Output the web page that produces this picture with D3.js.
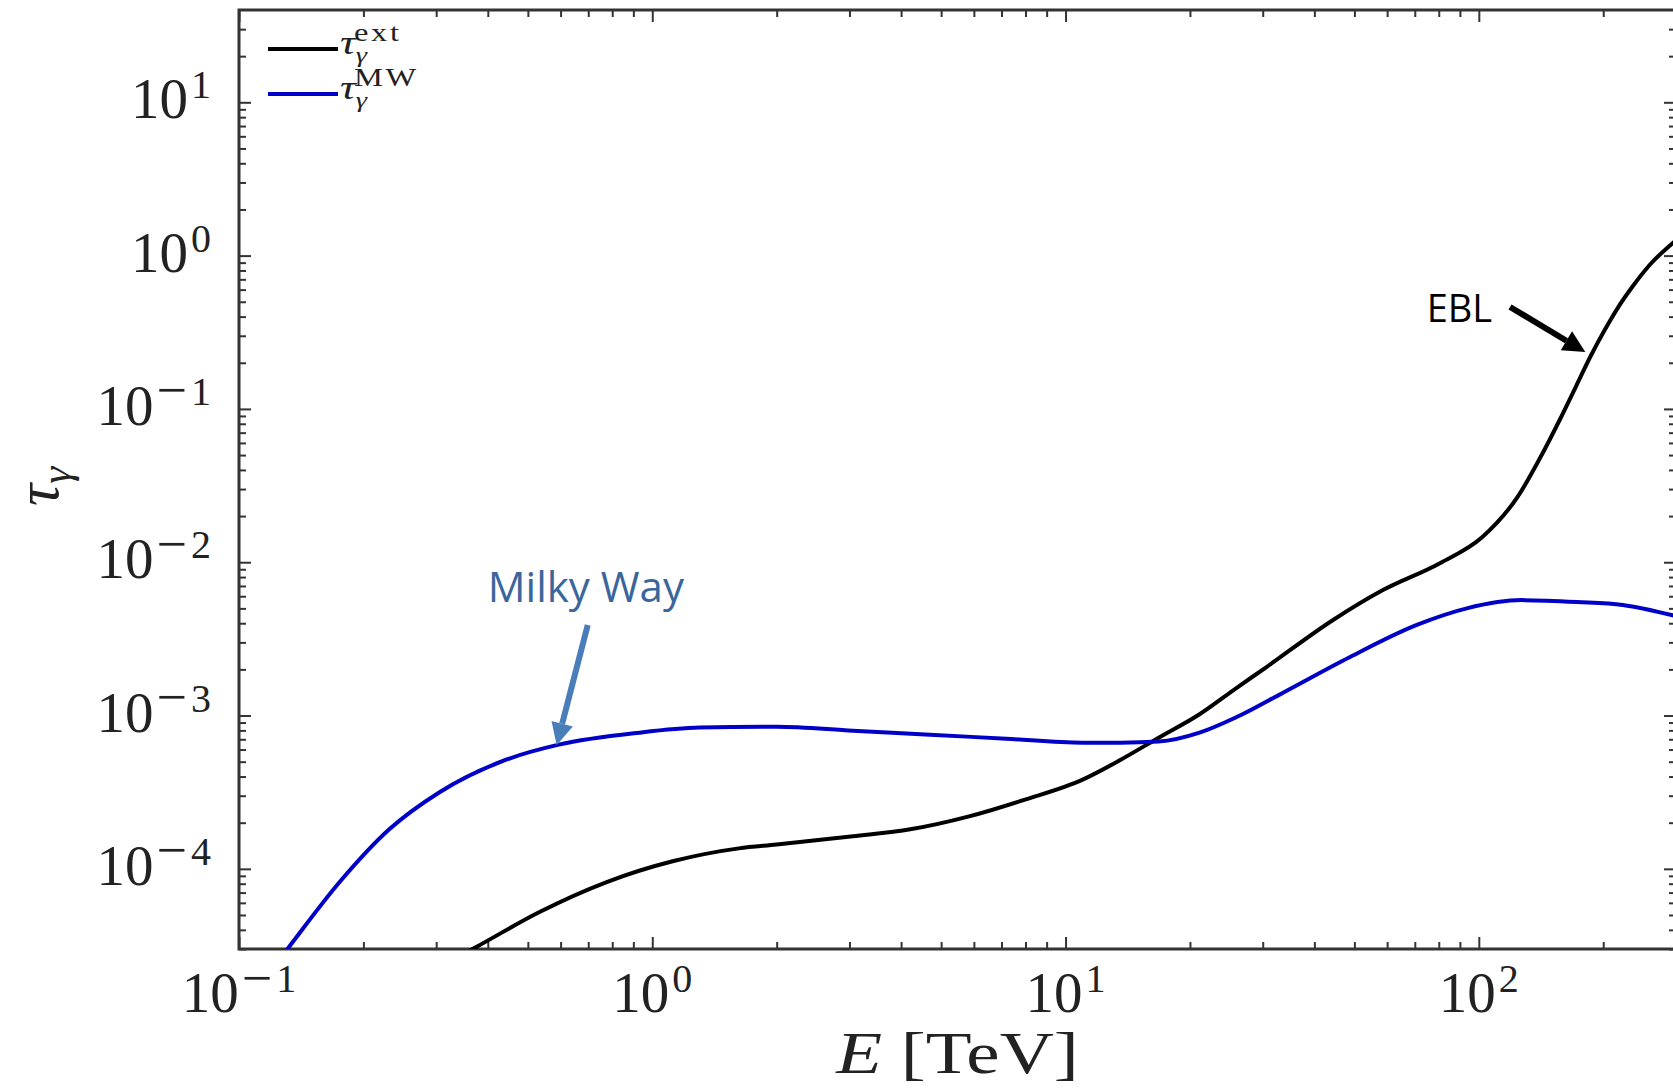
<!DOCTYPE html>
<html>
<head>
<meta charset="utf-8">
<script src="https://cdn.jsdelivr.net/npm/d3@7"></script>
<style>
  body { margin: 0; background: #fff; }
  svg { display: block; }
</style>
</head>
<body>
<div id="chart"></div>
<script>
// Data (E in TeV)
const extE = [0.33, 0.374, 0.532, 0.773, 1.12, 1.62, 2.00, 3.06, 4.21, 5.81, 7.98, 11.0, 13.6, 16.8, 21.1, 25.8, 30.7, 44.4, 58.6, 80.5, 102, 124, 143, 157, 172, 186, 201, 216, 236, 259, 300]
const extTau = [2.57e-5, 3.08e-5, 5.21e-5, 8.17e-5, 1.12e-4, 1.36e-4, 1.44e-4, 1.63e-4, 1.81e-4, 2.19e-4, 2.83e-4, 3.82e-4, 5.15e-4, 7.17e-4, 1.02e-3, 1.5e-3, 2.08e-3, 4.20e-3, 6.58e-3, 9.86e-3, 1.46e-2, 2.66e-2, 5.2e-2, 8.5e-2, 0.141, 0.218, 0.322, 0.448, 0.633, 0.868, 1.26]

const mwE = [0.12, 0.132, 0.175, 0.231, 0.305, 0.443, 0.594, 0.929, 1.30, 2.00, 3.06, 4.70, 7.18, 11.0, 13.6, 16.8, 21.1, 25.8, 33.6, 48.8, 70.8, 93.5, 127, 173, 223, 300]
const mwTau = [2.2e-5, 3.08e-5, 8.17e-5, 1.81e-4, 3.15e-4, 5.15e-4, 6.46e-4, 7.73e-4, 8.34e-4, 8.46e-4, 7.96e-4, 7.50e-4, 7.06e-4, 6.65e-4, 6.65e-4, 6.76e-4, 7.73e-4, 9.7e-4, 1.41e-3, 2.41e-3, 3.9e-3, 5.0e-3, 5.66e-3, 5.50e-3, 5.26e-3, 4.45e-3]

const xTicks = [0.1, 1, 10, 100]
const xTickExp = [-1, 0, 1, 2]
const yTicks = [1e-4, 1e-3, 1e-2, 1e-1, 1, 10]
const yTickExp = [-4, -3, -2, -1, 0, 1]

const seriesNames = ['ext', 'MW']
const seriesColors = ['#000000', '#0000c8']

// annotations, placed in data coordinates
const notes = [
  { text: 'EBL', size: 38, E: 74.8, tau: 0.369, color: '#000', arrow: '#000', from: [119, 0.462], to: [181, 0.235] },
  { text: 'Milky Way', size: 42, E: 0.40, tau: 5.5e-3, color: '#3a669c', arrow: '#4a7ebb', from: [0.698, 3.89e-3], to: [0.587, 6.41e-4] },
]

function draw() {
  let dimensions = {
    width: 1673,
    height: 1088,
    left: 239,
    right: 1676,
    top: 10,
    bottom: 949,
  }

  const svg = d3.select('#chart')
    .append('svg')
    .attr('width', dimensions.width)
    .attr('height', dimensions.height)
    .style('font-family', '"Liberation Serif", serif')

  // Scales
  const x = d3.scaleLog().domain([0.1, 300]).range([dimensions.left, dimensions.right])
  const y = d3.scaleLog().domain([3e-5, 40]).range([dimensions.bottom, dimensions.top])

  // minor ticks (2..9 in each decade)
  const minors = (lo, hi) => {
    const out = []
    for (let p = Math.floor(Math.log10(lo)); p <= Math.ceil(Math.log10(hi)); p++) {
      for (let m = 2; m <= 9; m++) {
        const v = m * Math.pow(10, p)
        if (v > lo && v < hi) out.push(v)
      }
    }
    return out
  }
  const xMinor = minors(0.1, 300)
  const yMinor = minors(3e-5, 40)

  const axisStyle = g => {
    g.select('.domain').remove()
    g.selectAll('line').attr('stroke', '#333').attr('stroke-width', 2)
  }

  const axes = [
    [d3.axisBottom(x), `translate(0,${dimensions.bottom})`, xTicks, xMinor],
    [d3.axisTop(x), `translate(0,${dimensions.top})`, xTicks, xMinor],
    [d3.axisLeft(y), `translate(${dimensions.left},0)`, yTicks, yMinor],
    [d3.axisRight(y), `translate(${dimensions.right},0)`, yTicks, yMinor],
  ]
  axes.forEach(([ax, tr, major, minor]) => {
    svg.append('g').attr('transform', tr)
      .call(ax.tickValues(major).tickSize(-12).tickFormat(''))
      .call(axisStyle)
    svg.append('g').attr('transform', tr)
      .call(ax.tickValues(minor).tickSize(-7).tickFormat(''))
      .call(axisStyle)
  })

  // frame
  svg.append('rect')
    .attr('x', dimensions.left)
    .attr('y', dimensions.top)
    .attr('width', dimensions.right - dimensions.left)
    .attr('height', dimensions.bottom - dimensions.top)
    .attr('fill', 'none')
    .attr('stroke', '#333')
    .attr('stroke-width', 3)

  // 10^n tick labels; a negative sign gets a larger glyph, like the TeX minus
  const powerLabel = (text, exps) => {
    text.append('tspan').text('10')
    text.filter((d, i) => exps[i] < 0)
      .append('tspan')
      .attr('dx', 3).attr('dy', -16.5)
      .attr('font-size', 54)
      .text('−')
    text.append('tspan')
      .attr('dx', (d, i) => exps[i] < 0 ? 4 : 3)
      .attr('dy', (d, i) => exps[i] < 0 ? -3.5 : -20)
      .attr('font-size', 40)
      .text((d, i) => Math.abs(exps[i]))
  }

  svg.append('g')
    .selectAll('text')
    .data(xTicks)
    .join('text')
    .attr('x', d => x(d))
    .attr('y', 1012)
    .attr('text-anchor', 'middle')
    .attr('font-size', 57)
    .attr('fill', '#222')
    .call(powerLabel, xTickExp)

  svg.append('g')
    .selectAll('text')
    .data(yTicks)
    .join('text')
    .attr('x', 211)
    .attr('y', d => y(d) + 16)
    .attr('text-anchor', 'end')
    .attr('font-size', 57)
    .attr('fill', '#222')
    .call(powerLabel, yTickExp)

  // axis titles
  const xTitle = svg.append('g')
    .attr('transform', `translate(${(dimensions.left + dimensions.right) / 2},1073) scale(1.25,1)`)
    .append('text')
    .attr('text-anchor', 'middle')
    .attr('font-size', 60)
    .attr('fill', '#222')
  xTitle.append('tspan').attr('font-style', 'italic').text('E')
  xTitle.append('tspan').text(' [TeV]')

  const yTitle = svg.append('text')
    .attr('transform', 'translate(58,506) rotate(-90)')
    .attr('font-size', 62)
    .attr('fill', '#222')
  yTitle.append('tspan').attr('font-style', 'italic').text('τ')
  yTitle.append('tspan').attr('font-style', 'italic').attr('font-size', 43).attr('dy', 12).text('γ')

  // curves
  svg.append('clipPath').attr('id', 'plot-clip')
    .append('rect')
    .attr('x', dimensions.left)
    .attr('y', dimensions.top)
    .attr('width', dimensions.right - dimensions.left)
    .attr('height', dimensions.bottom - dimensions.top)

  const line = d3.line()
    .x(d => x(d[0]))
    .y(d => y(d[1]))
    .curve(d3.curveMonotoneX)

  const series = [
    d3.zip(extE, extTau),
    d3.zip(mwE, mwTau),
  ]

  svg.append('g')
    .attr('clip-path', 'url(#plot-clip)')
    .selectAll('path')
    .data(series)
    .join('path')
    .attr('d', line)
    .attr('fill', 'none')
    .attr('stroke', (d, i) => seriesColors[i])
    .attr('stroke-width', 4)

  // legend
  const legend = svg.append('g')
    .selectAll('g')
    .data(seriesNames)
    .join('g')
    .attr('transform', (d, i) => `translate(268,${49 + i * 45})`)

  legend.append('line')
    .attr('x1', 0).attr('x2', 70)
    .attr('stroke', (d, i) => seriesColors[i])
    .attr('stroke-width', 4)

  const legendText = legend.append('g')
    .attr('transform', 'translate(72,5) scale(1.3,1)')
    .append('text')
    .attr('fill', '#222')
  legendText.append('tspan').attr('font-size', 34).attr('font-style', 'italic').text('τ')
  legendText.append('tspan').attr('font-size', 22).attr('font-style', 'italic').attr('dy', 8).text('γ')
  legendText.append('tspan').attr('font-size', 25).attr('dx', -10).attr('dy', -21).attr('letter-spacing', 2).text(d => d)

  // annotations
  const ann = svg.append('g').style('font-family', '"Open Sans", sans-serif')
  notes.forEach(n => {
    ann.append('text')
      .attr('x', x(n.E))
      .attr('y', y(n.tau))
      .attr('font-size', n.size)
      .attr('fill', n.color)
      .text(n.text)

    const x0 = x(n.from[0]), y0 = y(n.from[1])
    const x1 = x(n.to[0]), y1 = y(n.to[1])
    const ang = Math.atan2(y1 - y0, x1 - x0)
    const headL = 22, headW = 11
    const bx = x1 - headL * Math.cos(ang), by = y1 - headL * Math.sin(ang)
    ann.append('line')
      .attr('x1', x0).attr('y1', y0)
      .attr('x2', bx).attr('y2', by)
      .attr('stroke', n.arrow)
      .attr('stroke-width', 6)
    const px = -Math.sin(ang), py = Math.cos(ang)
    ann.append('path')
      .attr('d', `M${x1},${y1}L${bx + px * headW},${by + py * headW}L${bx - px * headW},${by - py * headW}Z`)
      .attr('fill', n.arrow)
  })
}

draw()
</script>
</body>
</html>
